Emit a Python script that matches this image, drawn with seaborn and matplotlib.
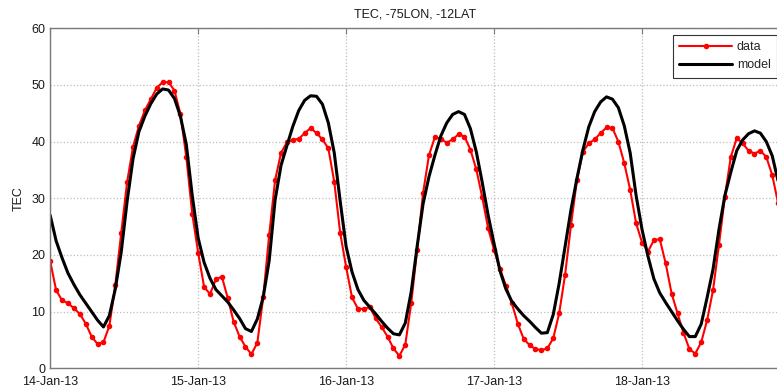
import matplotlib
matplotlib.use("Agg")
import matplotlib.pyplot as plt
import matplotlib.dates as mdates
import numpy as np
import pandas as pd
import seaborn as sns

# Observation window and sampling
start_time = "2013-01-14 00:00"
step_minutes = 57.6
view_steps = 123.2

title = "TEC, -75LON, -12LAT"
y_ticks = [0, 10, 20, 30, 40, 50, 60]

# Measured total electron content
tec_data = [
    18.9, 13.8, 12.0, 11.5, 10.6, 9.6, 7.9, 5.6, 4.3, 4.6,
    7.5, 14.7, 23.9, 32.9, 39.1, 42.8, 45.5, 47.5, 49.5, 50.5,
    50.5, 49.0, 44.9, 37.3, 27.3, 20.4, 14.4, 13.1, 15.7, 16.2,
    12.4, 8.2, 5.6, 3.8, 2.5, 4.5, 12.6, 23.5, 33.2, 38.0,
    39.9, 40.3, 40.5, 41.5, 42.4, 41.5, 40.4, 38.8, 32.9, 23.9,
    17.9, 12.5, 10.5, 10.5, 10.8, 8.8, 7.3, 5.6, 3.5, 2.2,
    4.2, 11.5, 20.9, 30.9, 37.6, 40.8, 40.5, 39.8, 40.4, 41.3,
    40.9, 38.6, 35.1, 30.2, 24.7, 20.9, 17.5, 14.6, 11.5, 7.9,
    5.2, 4.1, 3.4, 3.2, 3.5, 5.3, 9.7, 16.5, 25.3, 33.2,
    38.2, 39.7, 40.4, 41.5, 42.5, 42.4, 40.0, 36.2, 31.5, 25.6,
    22.2, 20.6, 22.6, 22.8, 18.5, 13.2, 9.7, 6.3, 3.4, 2.6,
    4.6, 8.5, 13.8, 21.8, 30.3, 37.3, 40.6, 39.7, 38.4, 37.9,
    38.4, 37.3, 34.1, 29.1,
]

# Model prediction at the same epochs
tec_model = [
    27.0, 22.5, 19.5, 16.8, 14.8, 13.0, 11.5, 10.0, 8.5, 7.3,
    9.3, 14.0, 20.5, 29.5, 37.0, 41.8, 44.5, 46.7, 48.4, 49.3,
    49.1, 47.6, 44.5, 39.5, 30.5, 23.0, 18.7, 15.9, 13.9, 12.8,
    11.7, 10.3, 8.8, 7.0, 6.5, 8.7, 12.6, 19.0, 29.7, 35.8,
    39.3, 42.7, 45.5, 47.3, 48.1, 48.0, 46.6, 43.3, 38.0, 29.5,
    21.5, 17.0, 13.9, 12.0, 10.8, 9.6, 8.3, 7.1, 6.1, 5.9,
    8.0, 13.5, 21.5, 29.0, 33.8, 37.6, 41.0, 43.3, 44.8, 45.3,
    44.8, 42.3, 38.2, 32.8, 27.0, 22.0, 17.2, 14.0, 11.8, 10.5,
    9.3, 8.3, 7.2, 6.2, 6.3, 9.5, 15.0, 21.5, 28.0, 33.5,
    38.5, 42.6, 45.3, 47.0, 47.9, 47.5, 46.0, 42.8, 38.0, 30.5,
    24.5, 19.8, 15.8, 13.3, 11.6, 10.0, 8.4, 6.9, 5.6, 5.6,
    7.8, 12.5, 17.5, 24.5, 30.5, 34.6, 38.4, 40.3, 41.4, 41.9,
    41.5, 40.0, 37.5, 33.0,
]

step = pd.Timedelta(minutes=step_minutes)
times = pd.date_range(start_time, periods=len(tec_data), freq=step)
df = pd.DataFrame({"time": times, "data": tec_data, "model": tec_model})

sns.set_theme(style="white")
plt.rcParams["font.family"] = ["Liberation Sans", "DejaVu Sans"]

fig = plt.figure(figsize=(7.77, 3.91), dpi=100)
ax = fig.add_axes([0.0646, 0.058, 0.9384, 0.8696])

sns.lineplot(data=df, x="time", y="data", ax=ax, color="#ff0000",
             linewidth=1.5, marker="o", markersize=4, markeredgewidth=0,
             label="data")
sns.lineplot(data=df, x="time", y="model", ax=ax, color="black",
             linewidth=2.2, label="model")

t0 = pd.Timestamp(start_time)
ax.set_xlim(t0, t0 + step * view_steps)
ax.set_ylim(0, 60)
ax.set_yticks(y_ticks)
ax.xaxis.set_major_locator(mdates.DayLocator())
ax.xaxis.set_major_formatter(mdates.DateFormatter("%d-%b-%y"))

ax.grid(True, linestyle=":", color="#bdbdbd", linewidth=0.9)
ax.set_axisbelow(True)
for side in ("left", "bottom", "top"):
    ax.spines[side].set_color("#7a7a7a")
    ax.spines[side].set_linewidth(1.0)
ax.spines["right"].set_visible(False)
ax.tick_params(direction="in", length=4, width=0.8, color="#7a7a7a",
               top=True, right=False, labelsize=9, labelcolor="#1a1a1a")
ax.tick_params(axis="y", pad=3.5)
ax.tick_params(axis="x", pad=5.5)

ax.set_xlabel("")
ax.set_ylabel("TEC", fontsize=9, color="#1a1a1a", labelpad=5)
ax.set_title(title, fontsize=9, color="#1a1a1a", pad=8)

leg = ax.legend(loc="upper right", bbox_to_anchor=(1.0, 1 - 35 / 391),
                bbox_transform=fig.transFigure, borderaxespad=0,
                fontsize=9, handlelength=4.2, fancybox=False,
                framealpha=1, edgecolor="#333333", borderpad=0.5,
                labelspacing=0.5, handletextpad=0.4)
leg.get_frame().set_linewidth(0.8)

fig.savefig("out.png", dpi=100)
